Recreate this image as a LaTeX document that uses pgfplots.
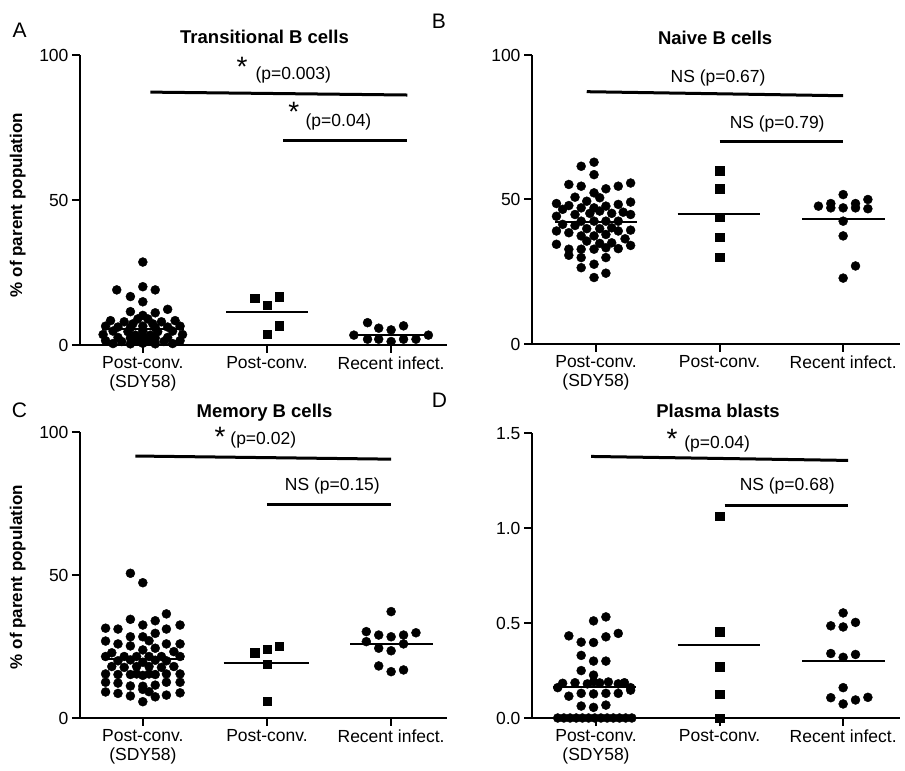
\documentclass[border=0pt]{standalone}
\usepackage{pgfplots}
\pgfplotsset{compat=1.18}
\usepackage{fontspec}
\setmainfont{Liberation Sans}
\newcommand{\fs}{\fontsize{17.5}{19}\selectfont}
\newcommand{\fst}{\fontsize{18.5}{20}\selectfont\bfseries}
\newcommand{\fstar}{\fontsize{28}{28}\selectfont}
\newcommand{\flet}{\fontsize{21}{22}\selectfont}
\pgfplotsset{
  prism/.style={
    scale only axis, clip=false, anchor=south west,
    axis x line=bottom, axis y line=left,
    axis line style={line width=2.8pt, -},
    tick style={line width=2pt, black},
    tick align=outside, major tick length=8pt,
    xtick={0,1,2},
    xticklabels={{Post-conv.\\(SDY58)},{Post-conv.},{Recent infect.}},
    x tick label style={align=center, font=\fs},
    y tick label style={font=\fs},
    /pgf/number format/assume math mode=true,
    ymin=0,
  },
  dots/.style={only marks, mark=*, mark size=4.5pt, black, mark options={fill=black, draw=black}},
  sqs/.style={only marks, mark=square*, mark size=4.2pt, black, mark options={fill=black, draw=black}},
  med/.style={black, line width=2pt, mark=none},
  sig/.style={black, line width=3pt, mark=none},
}
\tikzset{ann/.style={inner sep=0pt, font=\fs}}
\begin{document}
\begin{tikzpicture}
\useasboundingbox (0,0) rectangle (905pt,771pt);
% ---------------- A ----------------
\begin{axis}[prism, at={(80pt,426pt)}, width=367pt, height=290pt,
  xmin=-0.506, xmax=2.45, ymax=100, ytick={0,50,100}]
\addplot[med] coordinates {(-0.33,5.5) (0.33,5.5)};
\addplot[med] coordinates {(0.67,11.5) (1.33,11.5)};
\addplot[med] coordinates {(1.69,3.4) (2.31,3.4)};
\addplot[dots] coordinates {
(0,28.6) (-0.21,19.0) (0,20.1) (0.1,19.0) (-0.1,16.7) (0,14.9) (-0.1,11.5) (0.1,11.1) (0.2,12.3)
(0,10.2) (-0.04,9.0) (0.04,9.0)
(-0.26,8.4) (-0.15,8.0) (0.15,8.0) (0.26,8.4)
(-0.08,7.3) (0.08,7.3)
(-0.3,6.5) (-0.2,6.2) (-0.1,6.0) (0,6.5) (0.1,6.0) (0.2,6.2) (0.3,6.5)
(-0.24,4.8) (-0.12,4.6) (0,4.8) (0.12,4.6) (0.24,4.8)
(-0.32,3.6) (-0.06,3.4) (0.06,3.4) (0.32,3.6)
(-0.2,2.6) (-0.1,2.4) (0,2.8) (0.1,2.4) (0.2,2.6)
(-0.3,1.5) (-0.17,1.2) (-0.05,1.4) (0.05,1.4) (0.17,1.2) (0.3,1.5)
(-0.24,0.5) (-0.1,0.4) (0,0.6) (0.1,0.4) (0.24,0.5)
};
\addplot[sqs] coordinates {(0.9,16.2) (1,13.8) (1.1,16.7) (1.1,6.6) (1,3.8)};
\addplot[dots] coordinates {(1.81,7.7) (1.9,5.8) (2,5.2) (2.1,6.6) (1.7,3.4) (2.3,3.4)
 (1.81,2) (1.9,2) (2,1.2) (2.1,2) (2.2,2)};
\addplot[sig] coordinates {(0.06,87.2) (2.13,86.2)};
\addplot[sig] coordinates {(1.13,70.5) (2.13,70.5)};
\node[ann, anchor=base, font=\fst] at (axis cs:0.98,103.8) {Transitional B cells};
\node[ann, anchor=base, font=\fstar] at (axis cs:0.80,92.6) {*};
\node[ann, anchor=base west] at (axis cs:0.906,91.7) {(p=0.003)};
\node[ann, anchor=base, font=\fstar] at (axis cs:1.216,76.9) {*};
\node[ann, anchor=base west] at (axis cs:1.31,75.3) {(p=0.04)};
\node[ann, anchor=base west, font=\flet] at (axis cs:-1.05,106.2) {A};
\node[ann, anchor=base, rotate=90, font=\fontsize{17}{18}\selectfont\bfseries] at (axis cs:-0.973,48.3) {\% of parent population};
\end{axis}
% ---------------- B ----------------
\begin{axis}[prism, at={(532pt,427pt)}, width=368pt, height=289pt,
  xmin=-0.518, xmax=2.46, ymax=100, ytick={0,50,100}]
\addplot[med] coordinates {(-0.33,42.2) (0.33,42.2)};
\addplot[med] coordinates {(0.66,44.9) (1.33,44.9)};
\addplot[med] coordinates {(1.67,43.3) (2.34,43.3)};
\addplot[dots] coordinates {
(-0.32,48.6) (-0.32,44.2) (-0.32,39.1) (-0.32,34.5)
(-0.27,46.6) (-0.27,41.4)
(-0.22,55.2) (-0.22,47.9) (-0.22,38.5) (-0.22,32.8) (-0.22,30.7)
(-0.17,50.8) (-0.17,44.8) (-0.17,41.0)
(-0.12,61.5) (-0.12,54.6) (-0.12,47.1) (-0.12,42.5) (-0.12,37.4) (-0.12,32.8) (-0.12,29.9) (-0.12,26.4)
(-0.075,49.4) (-0.075,39.9) (-0.075,35.6)
(-0.05,45.2)
(-0.016,62.9) (-0.016,58.6) (-0.016,52.3) (-0.016,47.1) (-0.016,42.5) (-0.016,37.4) (-0.016,32.8) (-0.016,27.6) (-0.016,23.0)
(0.03,50.6) (0.03,46.0) (0.03,39.9) (0.03,34.8)
(0.08,53.7) (0.08,47.7) (0.08,42.5) (0.08,37.9) (0.08,33.3) (0.08,29.9) (0.08,24.5)
(0.127,45.2) (0.127,40.2) (0.127,35.0)
(0.18,54.6) (0.18,48.3) (0.18,42.5) (0.18,39.1) (0.18,33.0)
(0.22,45.6) (0.235,36.4)
(0.28,55.7) (0.28,49.1) (0.28,44.8) (0.28,39.4) (0.28,34.1)
};
\addplot[sqs] coordinates {(1,60) (1,53.7) (1,43.9) (1,37) (1,30.1)};
\addplot[dots] coordinates {(2,51.7) (2.2,50) (1.8,47.7) (1.9,47.1) (1.9,48.6) (2,47.1) (2.1,47.1)
 (2.1,48.6) (2.2,46.8) (2,42.5) (2,37.4) (2.1,27) (2,22.8)};
\addplot[sig] coordinates {(-0.075,87.3) (2.0,85.9)};
\addplot[sig] coordinates {(1.0,70.1) (2.0,70.1)};
\node[ann, anchor=base, font=\fst] at (axis cs:0.964,103.8) {Naive B cells};
\node[ann, anchor=base] at (axis cs:0.988,90.4) {NS (p=0.67)};
\node[ann, anchor=base] at (axis cs:1.466,74.7) {NS (p=0.79)};
\node[ann, anchor=base west, font=\flet] at (axis cs:-1.33,109) {B};
\end{axis}
% ---------------- C ----------------
\begin{axis}[prism, at={(80pt,53pt)}, width=367pt, height=286pt,
  xmin=-0.506, xmax=2.45, ymax=100, ytick={0,50,100}]
\addplot[med] coordinates {(-0.33,20.5) (0.33,20.5)};
\addplot[med] coordinates {(0.65,19.3) (1.34,19.3)};
\addplot[med] coordinates {(1.67,25.9) (2.34,25.9)};
\addplot[dots] coordinates {
(-0.1,50.6) (0,47.3) (0.19,36.4) (-0.1,34.5) (0,32.5) (0.1,34.0) (0.3,32.5) (-0.3,31.4) (-0.2,31.1)
(0.19,31.1) (0.1,29.6) (-0.1,28.4) (0,28.4) (0.05,27.0) (-0.3,26.9) (-0.2,25.9) (0.19,25.9) (0.3,25.9)
(-0.1,25.2) (0.1,24.4) (-0.25,22.8) (0,23.8) (0.25,23.2)
(-0.3,21.5) (-0.15,21.5) (-0.05,21.5) (0.05,21.5) (0.15,21.5) (0.3,21.5)
(-0.2,20) (-0.1,20.3) (0,19.5) (0.1,20.2) (0.19,20)
(-0.25,18) (-0.15,17.7) (-0.05,18) (0.05,18) (0.15,17.7) (0.25,18)
(-0.3,15.4) (-0.2,15.2) (-0.1,15.2) (-0.05,15.4) (0,14.9) (0.05,15.4) (0.1,15.2) (0.19,15.4) (0.3,15.4)
(-0.3,12.5) (-0.2,12.2) (-0.1,11.2) (0,11.1) (0.1,11.5) (0.19,12.5) (0.3,12.5)
(-0.3,9.1) (-0.2,8.6) (-0.1,7.7) (0,10.0) (0.05,9.2) (0.1,7.4) (0.19,8.0) (0.3,8.8)
(0,5.7)
};
\addplot[sqs] coordinates {(0.9,22.8) (1,24) (1.1,25.2) (1,18.9) (1,5.9)};
\addplot[dots] coordinates {(2,37.2) (1.8,30.2) (1.9,29) (2,28.4) (2.1,29) (2.2,29.8) (1.8,26.7)
 (2.1,25.9) (1.9,24.4) (2,23.5) (1.9,18.2) (2,16.2) (2.1,16.8)};
\addplot[sig] coordinates {(-0.06,91.6) (2.0,90.5)};
\addplot[sig] coordinates {(1.0,74.7) (2.0,74.7)};
\node[ann, anchor=base, font=\fst] at (axis cs:0.98,104.9) {Memory B cells};
\node[ann, anchor=base, font=\fstar] at (axis cs:0.623,94.9) {*};
\node[ann, anchor=base west] at (axis cs:0.704,95.5) {(p=0.02)};
\node[ann, anchor=base] at (axis cs:1.527,79.4) {NS (p=0.15)};
\node[ann, anchor=base west, font=\flet] at (axis cs:-1.056,105.2) {C};
\node[ann, anchor=base, rotate=90, font=\fontsize{17}{18}\selectfont\bfseries] at (axis cs:-0.973,49.3) {\% of parent population};
\end{axis}
% ---------------- D ----------------
\begin{axis}[prism, at={(532pt,53pt)}, width=368pt, height=284.5pt,
  xmin=-0.518, xmax=2.46, ymax=1.5, ytick={0,0.5,1,1.5},
  yticklabel style={/pgf/number format/.cd, fixed, fixed zerofill, precision=1}]
\addplot[med] coordinates {(-0.35,0.165) (0.32,0.165)};
\addplot[med] coordinates {(0.66,0.384) (1.33,0.384)};
\addplot[med] coordinates {(1.67,0.30) (2.34,0.30)};
\addplot[dots] coordinates {
(-0.02,0.512) (0.08,0.533) (-0.22,0.433) (-0.12,0.40) (-0.02,0.398) (0.08,0.428) (0.18,0.446)
(-0.12,0.33) (-0.02,0.30) (0.08,0.30) (-0.12,0.25) (-0.02,0.226)
(-0.27,0.183) (-0.17,0.186) (-0.07,0.18) (-0.02,0.191) (0.03,0.185) (0.1,0.19) (0.18,0.18) (0.23,0.186) (0.28,0.16)
(-0.31,0.16) (-0.22,0.115) (-0.12,0.13) (-0.02,0.127) (0.08,0.13) (0.18,0.13) (0.28,0.147)
(-0.12,0.063) (-0.02,0.056) (0.08,0.068)
(-0.31,0) (-0.26,0) (-0.21,0) (-0.16,0) (-0.11,0) (-0.06,0) (-0.01,0) (0.04,0) (0.09,0) (0.14,0) (0.19,0) (0.24,0) (0.29,0)
};
\addplot[sqs] coordinates {(1,1.063) (1,0.454) (1,0.27) (1,0.125) (1,0)};
\addplot[dots] coordinates {(2,0.554) (1.9,0.486) (2,0.48) (2.1,0.504) (1.9,0.34) (2,0.32) (2.1,0.335)
 (2,0.16) (1.9,0.107) (2,0.074) (2.1,0.095) (2.2,0.109)};
\addplot[sig] coordinates {(-0.04,1.379) (2.04,1.358)};
\addplot[sig] coordinates {(1.04,1.121) (2.04,1.121)};
\node[ann, anchor=base, font=\fst] at (axis cs:0.988,1.584) {Plasma blasts};
\node[ann, anchor=base, font=\fstar] at (axis cs:0.615,1.423) {*};
\node[ann, anchor=base west] at (axis cs:0.713,1.421) {(p=0.04)};
\node[ann, anchor=base] at (axis cs:1.547,1.2) {NS (p=0.68)};
\node[ann, anchor=base west, font=\flet] at (axis cs:-1.33,1.637) {D};
\end{axis}
\end{tikzpicture}
\end{document}
